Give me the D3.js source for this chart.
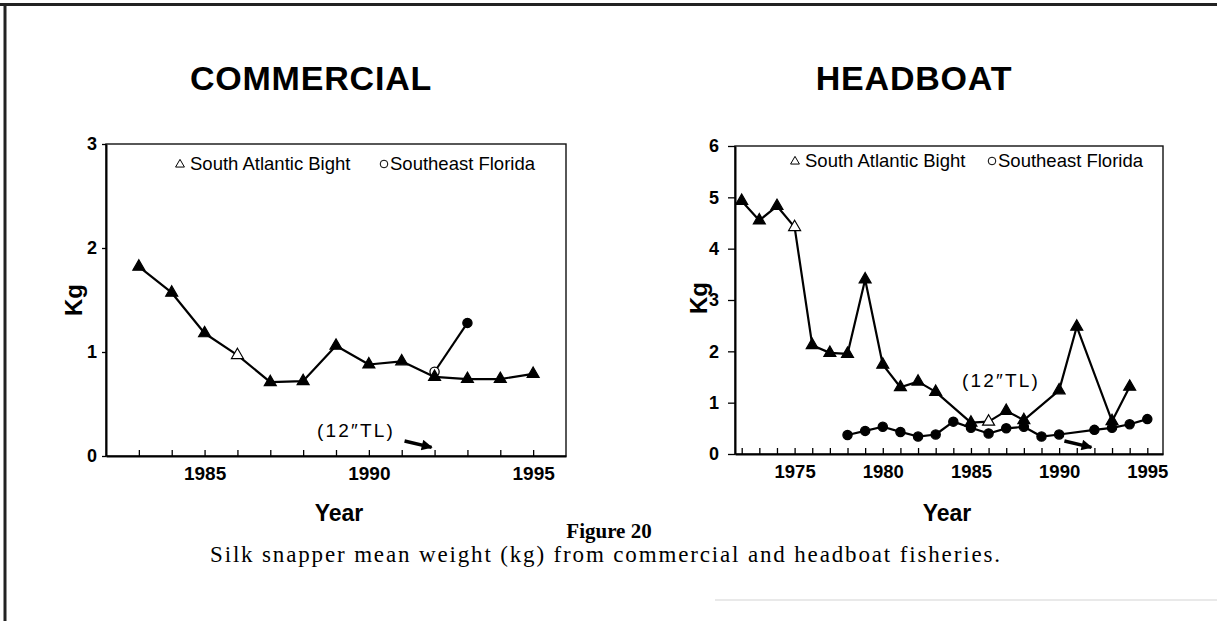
<!DOCTYPE html>
<html><head><meta charset="utf-8">
<script src="https://cdn.jsdelivr.net/npm/d3@7"></script>
<style>
body{margin:0;background:#fff;}
svg{display:block;}
</style></head><body>
<svg id="c" width="1217" height="621"></svg>
<script>
// ---------- DATA ----------
const seriesNames = ["South Atlantic Bight", "Southeast Florida"];
const panelTitles = ["COMMERCIAL", "HEADBOAT"];

// Commercial
const comSABYears = [1983,1984,1985,1986,1987,1988,1989,1990,1991,1992,1993,1994,1995];
const comSAB      = [1.82,1.57,1.18,0.97,0.71,0.72,1.06,0.88,0.91,0.76,0.74,0.74,0.79];
const comSEFYears = [1992,1993];
const comSEF      = [0.81,1.28];
const comOpenSAB  = [1986];
const comOpenSEF  = [1992];
const comXTicks   = [1983,1984,1985,1986,1987,1988,1989,1990,1991,1992,1993,1994,1995];
const comXLabels  = [1985,1990,1995];
const comYTicks   = [0,1,2,3];

// Headboat
const hbSABYears = [1972,1973,1974,1975,1976,1977,1978,1979,1980,1981,1982,1983,1985,1986,1987,1988,1990,1991,1993,1994];
const hbSAB      = [4.93,4.55,4.83,4.42,2.12,1.97,1.95,3.40,1.74,1.30,1.41,1.21,0.61,0.63,0.84,0.66,1.24,2.48,0.64,1.31];
const hbSEFYears = [1978,1979,1980,1981,1982,1983,1984,1985,1986,1987,1988,1989,1990,1992,1993,1994,1995];
const hbSEF      = [0.37,0.45,0.53,0.43,0.34,0.38,0.63,0.51,0.40,0.50,0.53,0.34,0.38,0.47,0.51,0.58,0.68];
const hbOpenSAB  = [1975,1986];
const hbOpenSEF  = [];
const hbXTicks   = [1972,1973,1974,1975,1976,1977,1978,1979,1980,1981,1982,1983,1984,1985,1986,1987,1988,1989,1990,1991,1992,1993,1994,1995];
const hbXLabels  = [1975,1980,1985,1990,1995];
const hbYTicks   = [0,1,2,3,4,5,6];

const sizeLimitYear = 1992;
const sizeLimitLabel = "(12\u2033TL)";
const figureLabel = "Figure 20";
const captionText = "Silk snapper mean weight (kg) from commercial and headboat fisheries.";

// ---------- DRAW ----------
const svg = d3.select("#c");
const sans = "'Liberation Sans', Arial, Helvetica, sans-serif";
const serif = "'Liberation Serif', 'Times New Roman', serif";

// page border
svg.append("line").attr("x1",0).attr("x2",1217).attr("y1",4.5).attr("y2",4.5)
  .attr("stroke","#222").attr("stroke-width",2.8);
svg.append("line").attr("x1",5).attr("x2",5).attr("y1",3).attr("y2",621)
  .attr("stroke","#222").attr("stroke-width",3);
svg.append("line").attr("x1",715).attr("x2",1217).attr("y1",600).attr("y2",600)
  .attr("stroke","#e2e2e2").attr("stroke-width",1.5);

const defs = svg.append("defs");
defs.append("marker").attr("id","ah").attr("viewBox","0 0 10 10")
  .attr("refX",9).attr("refY",5).attr("markerWidth",4).attr("markerHeight",3.2)
  .attr("orient","auto").attr("markerUnits","strokeWidth")
  .append("path").attr("d","M0,0 L10,5 L0,10 z").attr("fill","#000");

function zip(a,b){ return a.map((v,i)=>[v,b[i]]); }

function panel(cfg){
  const x = d3.scaleLinear().domain(cfg.xDomain).range([cfg.left, cfg.right]);
  const y = d3.scaleLinear().domain(cfg.yDomain).range([cfg.bottom, cfg.top]);
  const g = svg.append("g");

  // title
  g.append("text").attr("x",cfg.titleX).attr("y",90).attr("text-anchor","middle")
    .style("font-family",sans).style("font-weight","bold").style("font-size","34px")
    .attr("letter-spacing",0.8).text(cfg.title);

  // frame
  g.append("rect").attr("x",cfg.left).attr("y",cfg.top)
    .attr("width",cfg.right-cfg.left).attr("height",cfg.bottom-cfg.top)
    .attr("fill","none").attr("stroke","#111").attr("stroke-width",1.4);

  // x axis
  const xa = d3.axisBottom(x).tickValues(cfg.xTicks).tickSize(-6).tickSizeOuter(0)
    .tickPadding(11).tickFormat(d => cfg.xLabels.includes(d) ? String(d) : "");
  const gx = g.append("g").attr("transform",`translate(0,${cfg.bottom})`).call(xa);
  gx.select(".domain").attr("stroke","#000").attr("stroke-width",2);
  gx.selectAll(".tick line").attr("stroke","#000").attr("stroke-width",1.3);
  gx.selectAll(".tick text").style("font-family",sans).style("font-weight","bold")
    .style("font-size",cfg.xFont+"px").attr("fill","#000");

  // y axis
  const ya = d3.axisLeft(y).tickValues(cfg.yTicks).tickSize(cfg.yTick).tickSizeOuter(0)
    .tickPadding(cfg.yPad).tickFormat(d3.format("d"));
  const gy = g.append("g").attr("transform",`translate(${cfg.left},0)`).call(ya);
  gy.select(".domain").attr("stroke","#000").attr("stroke-width",2);
  gy.selectAll(".tick line").attr("stroke","#000").attr("stroke-width",1.3);
  gy.selectAll(".tick text").style("font-family",sans).style("font-weight","bold")
    .style("font-size","18px").attr("fill","#000");

  // axis titles
  g.append("text").attr("transform",`translate(${cfg.kgX},${cfg.kgY}) rotate(-90)`)
    .attr("text-anchor","middle").attr("dy","0.35em")
    .style("font-family",sans).style("font-weight","bold").style("font-size","24px").text("Kg");
  g.append("text").attr("x",cfg.yearX).attr("y",521).attr("text-anchor","middle")
    .style("font-family",sans).style("font-weight","bold").style("font-size","23px").text("Year");

  // legend
  const lg = g.append("g");
  lg.append("path").attr("d",d3.symbol(d3.symbolTriangle,34)())
    .attr("transform",`translate(${cfg.legX1},${cfg.legY-5.5})`)
    .attr("fill","#fff").attr("stroke","#000").attr("stroke-width",1);
  lg.append("text").attr("x",cfg.legX1+10).attr("y",cfg.legY)
    .style("font-family",sans).style("font-size","18.5px").text(seriesNames[0]);
  lg.append("circle").attr("cx",cfg.legX2).attr("cy",cfg.legY-6).attr("r",3.8)
    .attr("fill","#fff").attr("stroke","#000").attr("stroke-width",1);
  lg.append("text").attr("x",cfg.legX2+6).attr("y",cfg.legY)
    .style("font-family",sans).style("font-size","18.5px").text(seriesNames[1]);

  // lines
  const line = d3.line().x(d=>x(d[0])).y(d=>y(d[1]));
  const sab = zip(cfg.sabYears,cfg.sab);
  const sef = zip(cfg.sefYears,cfg.sef);
  g.append("path").datum(sef).attr("d",line).attr("fill","none")
    .attr("stroke","#000").attr("stroke-width",2.2).attr("stroke-linejoin","round");
  g.append("path").datum(sab).attr("d",line).attr("fill","none")
    .attr("stroke","#000").attr("stroke-width",2.2).attr("stroke-linejoin","round");

  // markers
  g.selectAll(".sef").data(sef).join("circle").attr("class","sef")
    .attr("cx",d=>x(d[0])).attr("cy",d=>y(d[1])).attr("r",4.6)
    .attr("fill",d=>cfg.openSEF.includes(d[0])?"#fff":"#000")
    .attr("stroke","#000").attr("stroke-width",1.3);
  g.selectAll(".sab").data(sab).join("path").attr("class","sab")
    .attr("d",d3.symbol(d3.symbolTriangle,62)())
    .attr("transform",d=>`translate(${x(d[0])},${y(d[1])})`)
    .attr("fill",d=>cfg.openSAB.includes(d[0])?"#fff":"#000")
    .attr("stroke","#000").attr("stroke-width",1.2);

  // size-limit annotation
  g.append("text").attr("x",cfg.tlX).attr("y",cfg.tlY)
    .style("font-family",sans).style("font-size","19px").attr("letter-spacing",2.2)
    .text(sizeLimitLabel);
  const tx = x(sizeLimitYear), ty = y(0) - cfg.arrowLift;
  g.append("line").attr("x1",tx-30).attr("y1",ty-7).attr("x2",tx-3).attr("y2",ty-0.7)
    .attr("stroke","#000").attr("stroke-width",3.4).attr("marker-end","url(#ah)");
}

panel({
  title: panelTitles[0], titleX: 311,
  left:106, right:566, top:144, bottom:456,
  xDomain:[1982,1996], yDomain:[0,3],
  xTicks: comXTicks, xLabels: comXLabels, yTicks: comYTicks,
  xFont: 19, yTick: 4, yPad: 5,
  kgX: 74, kgY: 300, yearX: 339,
  legX1: 180, legX2: 384, legY: 170,
  sabYears: comSABYears, sab: comSAB, sefYears: comSEFYears, sef: comSEF,
  openSAB: comOpenSAB, openSEF: comOpenSEF,
  tlX: 317, tlY: 437, arrowLift: 8
});

panel({
  title: panelTitles[1], titleX: 914,
  left:735, right:1163, top:146, bottom:454,
  xDomain:[1971.62,1995.89], yDomain:[0,6],
  xTicks: hbXTicks, xLabels: hbXLabels, yTicks: hbYTicks,
  xFont: 18.5, yTick: 7, yPad: 9,
  kgX: 699, kgY: 298, yearX: 947,
  legX1: 795, legX2: 992, legY: 167,
  sabYears: hbSABYears, sab: hbSAB, sefYears: hbSEFYears, sef: hbSEF,
  openSAB: hbOpenSAB, openSEF: hbOpenSEF,
  tlX: 962, tlY: 387, arrowLift: 6
});

// caption
svg.append("text").attr("x",609).attr("y",538).attr("text-anchor","middle")
  .style("font-family",serif).style("font-weight","bold").style("font-size","21px").text(figureLabel);
svg.append("text").attr("x",605).attr("y",562).attr("text-anchor","middle")
  .style("font-family",serif).style("font-size","23px")
  .attr("textLength",790).attr("lengthAdjust","spacing").text(captionText);
</script>
</body></html>
